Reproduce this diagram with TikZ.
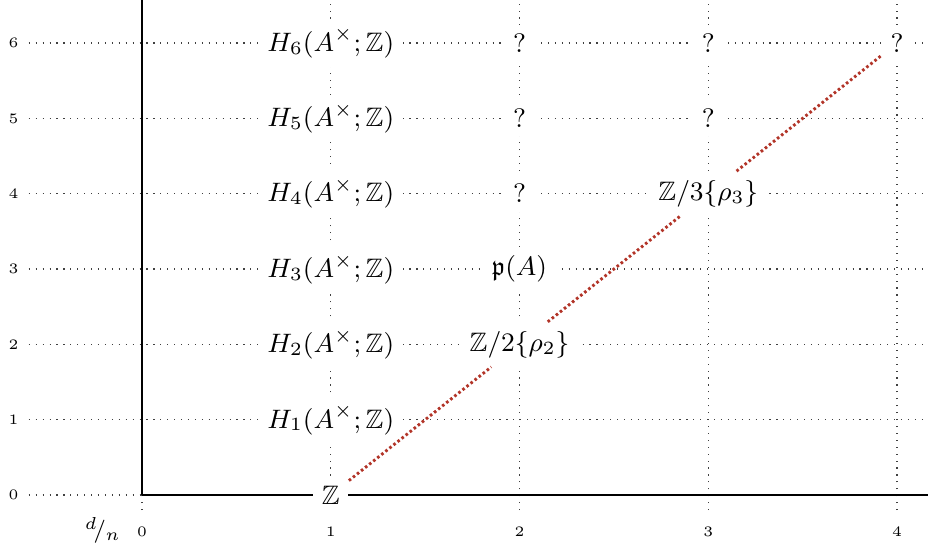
\documentclass[tikz,border=0pt]{standalone}
\usepackage{fix-cm}
\usepackage{amsmath,amssymb}
\usepackage{tikz}
\usetikzlibrary{positioning}
\definecolor{cdiff}{RGB}{178,52,40}

\begin{document}
\begin{tikzpicture}[x=2.3cm, y=0.918cm,
    gridline/.style={dotted, thin, black!75},
    axis/.style={thin, black},
    entry/.style={fill=white, inner sep=3pt, font=\fontsize{9.25}{11}\selectfont},
    tick/.style={font=\tiny, inner sep=1pt},
    diff/.style={line width=1pt, dash pattern=on 0.9pt off 0.9pt, cdiff}
]
\useasboundingbox (-0.7523,-0.677) rectangle (4.164,6.571);
% grid
\foreach \y in {0,...,6} {
  \draw[gridline] (-0.6,\y) -- (4.164,\y);
  \node[tick] (ty\y) at (-0.68,\y) {$\y$};
}
\foreach \x in {0,...,4} {
  \draw[gridline] (\x,-0.2) -- (\x,6.571);
  \node[tick] (tx\x) at (\x,-0.49) {$\x$};
}
\node[font=\footnotesize] (dn) at (-0.207,-0.47) {$^{d}\!/_{n}$};
% axes
\draw[axis] (0,0) -- (4.164,0);
\draw[axis] (0,0) -- (0,6.571);
% entries
\node[entry] (z) at (1,0) {$\mathbb{Z}$};
\node[entry] (h1) at (1,1) {$H_1(A^\times;\mathbb{Z})$};
\node[entry] (h2) at (1,2) {$H_2(A^\times;\mathbb{Z})$};
\node[entry] (h3) at (1,3) {$H_3(A^\times;\mathbb{Z})$};
\node[entry] (h4) at (1,4) {$H_4(A^\times;\mathbb{Z})$};
\node[entry] (h5) at (1,5) {$H_5(A^\times;\mathbb{Z})$};
\node[entry] (h6) at (1,6) {$H_6(A^\times;\mathbb{Z})$};
\node[entry] (rho2) at (2,2) {$\mathbb{Z}/2\{\rho_2\}$};
\node[entry] (pa) at (2,3) {$\mathfrak{p}(A)$};
\node[entry] (q24) at (2,4) {$?$};
\node[entry] (q25) at (2,5) {$?$};
\node[entry] (q26) at (2,6) {$?$};
\node[entry] (rho3) at (3,4) {$\mathbb{Z}/3\{\rho_3\}$};
\node[entry] (q35) at (3,5) {$?$};
\node[entry] (q36) at (3,6) {$?$};
\node[entry] (q46) at (4,6) {$?$};
% line through the classes
\draw[diff] (z) -- (rho2);
\draw[diff] (rho2) -- (rho3);
\draw[diff] (rho3) -- (q46);
\end{tikzpicture}
\end{document}
